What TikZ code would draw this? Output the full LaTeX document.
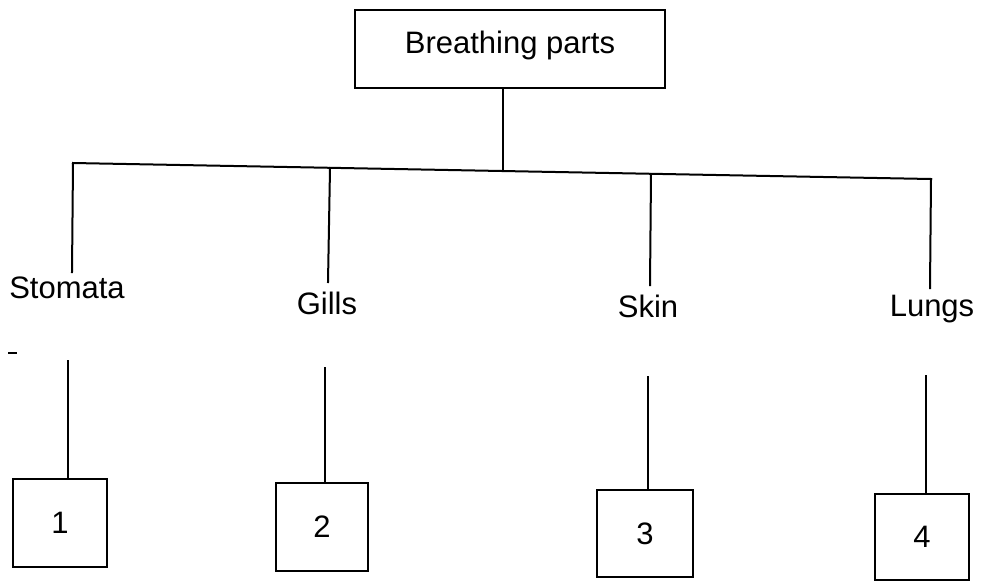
\documentclass[tikz,border=0pt]{standalone}
\usepackage{fontspec}
\setmainfont{Liberation Sans}
\begin{document}
\begin{tikzpicture}[x=1pt,y=-1pt,line width=2pt,line cap=rect,
  txt/.style={font=\fontsize{31}{36}\selectfont},
  lbl/.style={txt,inner sep=0pt,anchor=base},
  numbox/.style={draw,txt,inner sep=0pt,minimum width=94pt,minimum height=88pt},
  topbox/.style={draw,txt,minimum width=310pt,inner xsep=0pt,inner ysep=0pt,text height=43pt,text depth=35pt}]
\useasboundingbox (0,0) rectangle (982,582);
% top box
\node[topbox] (top) at (510,49) {Breathing parts};
% branch bar
\coordinate (h1) at (73,163);
\coordinate (h2) at (330,168);
\coordinate (h0) at (503,171);
\coordinate (h3) at (651,174);
\coordinate (h4) at (931,179);
\draw (h0 |- top.south) -- (h0);
\draw (h1) -- (h4);
% labels
\node[lbl] (stomata) at (67,298) {Stomata};
\node[lbl] (gills) at (327,314) {Gills};
\node[lbl] (skin) at (648,317) {Skin};
\node[lbl] (lungs) at (932,316) {Lungs};
\coordinate (e1) at (72,272);
\coordinate (e2) at (328,282);
\coordinate (e3) at (650,285);
\coordinate (e4) at (930,288);
\draw (h1) -- (e1);
\draw (h2) -- (e2);
\draw (h3) -- (e3);
\draw (h4) -- (e4);
% number boxes
\node[numbox] (b1) at (60,523) {1};
\node[numbox,minimum width=92pt] (b2) at (322,527) {2};
\node[numbox,minimum width=96pt,minimum height=87pt] (b3) at (645,533.5) {3};
\node[numbox,minimum height=86pt] (b4) at (922,537) {4};
\coordinate (s1) at (68,361);
\coordinate (s2) at (325,368);
\coordinate (s3) at (648,377);
\coordinate (s4) at (926,376);
\draw (s1) -- (s1 |- b1.north);
\draw (s2) -- (s2 |- b2.north);
\draw (s3) -- (s3 |- b3.north);
\draw (s4) -- (s4 |- b4.north);
% stray mark
\coordinate (d1) at (9,353);
\coordinate (d2) at (16,353);
\draw (d1) -- (d2);
\end{tikzpicture}
\end{document}
